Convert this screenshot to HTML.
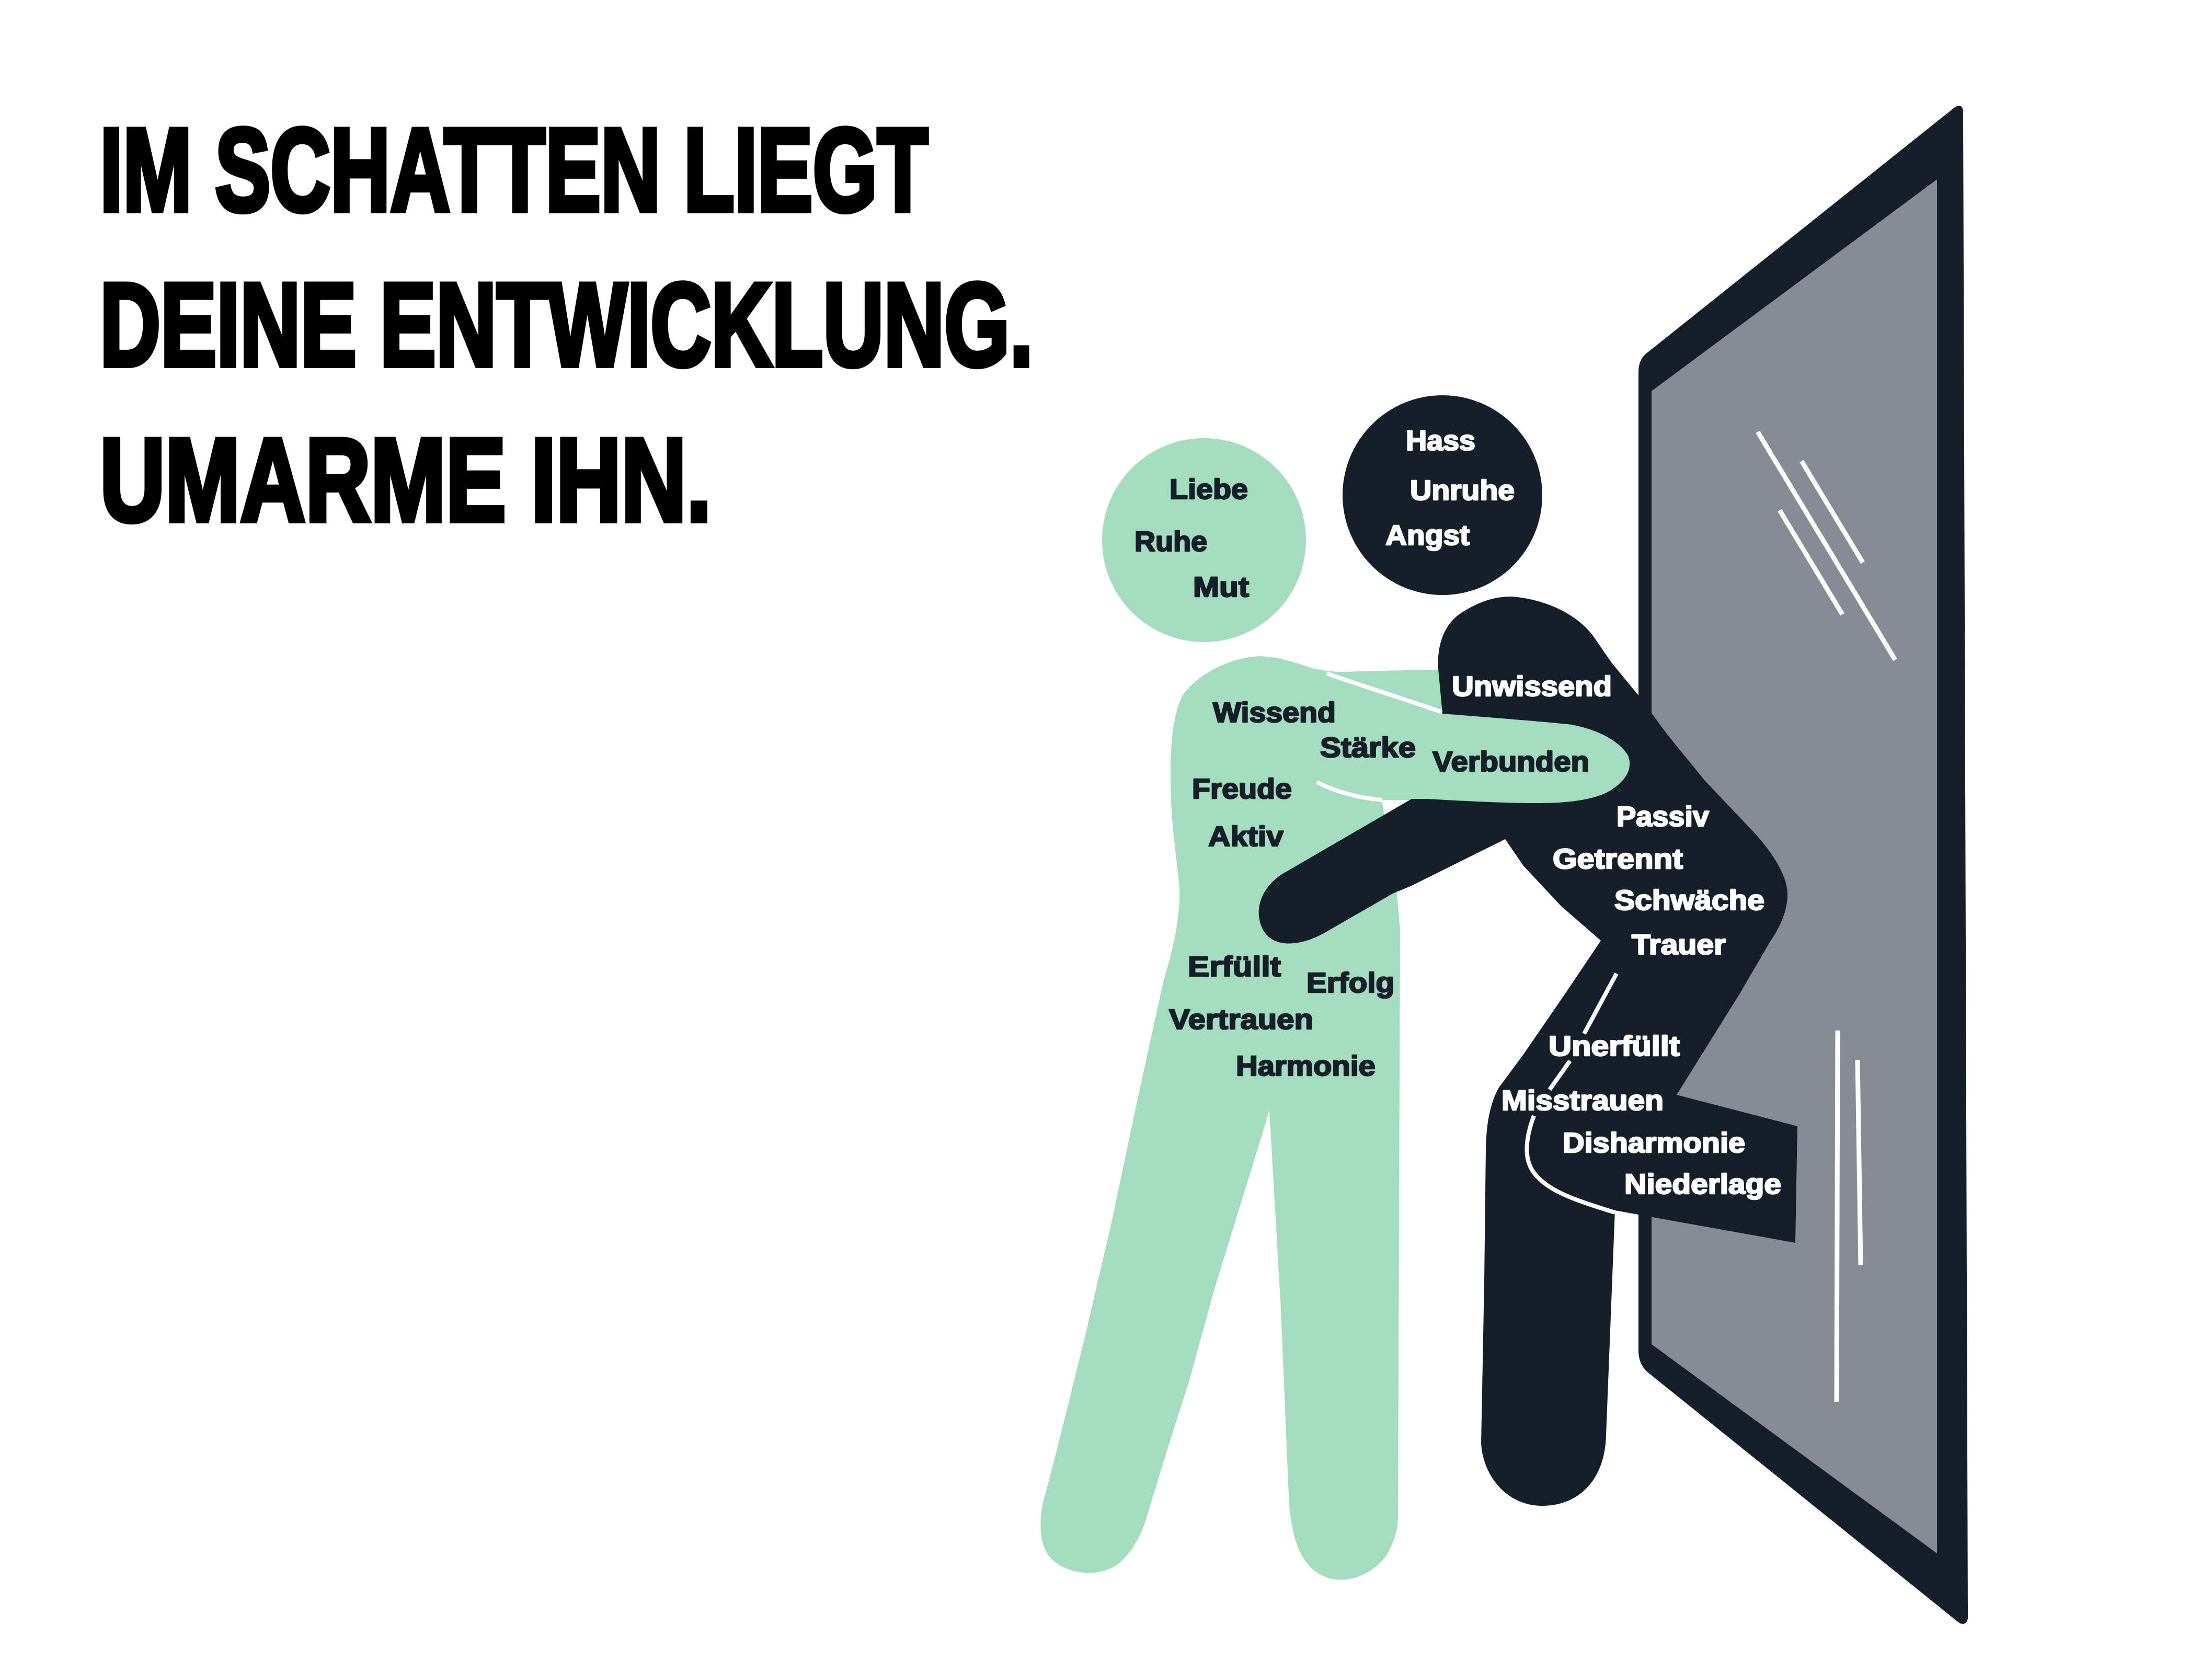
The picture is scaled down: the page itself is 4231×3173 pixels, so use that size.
<!DOCTYPE html>
<html>
<head>
<meta charset="utf-8">
<style>
  html, body { margin: 0; padding: 0; background: #ffffff; }
  svg { display: block; }
  .title { font-family: "Liberation Sans", "DejaVu Sans", sans-serif; font-weight: bold; font-size: 226px; fill: #000000; stroke: #000000; stroke-width: 10px; stroke-linejoin: miter; }
  .lbl { font-family: "Liberation Sans", "DejaVu Sans", sans-serif; font-weight: bold; font-size: 54px; stroke-width: 2.5px; stroke-linejoin: round; }
  .dk { fill: #161f29; stroke: #161f29; }
  .wt { fill: #ffffff; stroke: #ffffff; }
</style>
</head>
<body>
<svg width="4231" height="3173" viewBox="0 0 4231 3173" xmlns="http://www.w3.org/2000/svg">
  <rect x="0" y="0" width="4231" height="3173" fill="#ffffff"/>

  <!-- Title -->
  <text class="title" x="191" y="403" textLength="1584" lengthAdjust="spacingAndGlyphs">IM SCHATTEN LIEGT</text>
  <text class="title" x="191" y="699" textLength="1785" lengthAdjust="spacingAndGlyphs">DEINE ENTWICKLUNG.</text>
  <text class="title" x="191" y="996" textLength="1170" lengthAdjust="spacingAndGlyphs">UMARME IHN.</text>

  <!-- Mirror -->
  <path d="M 3134,712 C 3134,692 3142,680 3154,672 L 3738,206 C 3748,198 3755,203 3755,214 L 3764,3093 C 3764,3105 3755,3110 3745,3102 L 3151,2624 C 3140,2614 3134,2600 3134,2584 Z" fill="#161f29"/>
  <path d="M 3159,748 L 3705,343 L 3705,2971 L 3159,2571 Z" fill="#878b93"/>
  <g stroke="#ffffff" stroke-width="9" fill="none" stroke-linecap="butt">
    <line x1="3362" y1="826" x2="3625" y2="1262"/>
    <line x1="3446" y1="882" x2="3563" y2="1076"/>
    <line x1="3404" y1="976" x2="3524" y2="1175"/>
    <line x1="3515" y1="1971" x2="3513" y2="2681"/>
    <line x1="3553" y1="2027" x2="3559" y2="2420"/>
  </g>

  <!-- Heads -->
  <circle cx="2303" cy="1033" r="195" fill="#a4dcbf"/>
  <circle cx="2759" cy="947" r="191" fill="#161f29"/>

  <!-- Green body -->
  <path d="M 2409,1255
           C 2350,1258 2290,1290 2262,1330
           C 2242,1370 2238,1430 2239,1500
           C 2240,1580 2252,1650 2256,1700
           C 2258,1760 2240,1830 2226,1874
           L 2174,2111 L 2125,2343 L 2074,2562 L 2023,2767 L 2001,2852
           C 1985,2900 1985,2960 2015,2985
           C 2050,3015 2110,3015 2140,2990
           C 2170,2965 2185,2930 2195,2896
           L 2226,2794 L 2277,2633 L 2322,2468 L 2373,2303 L 2428,2124
           L 2450,2504 L 2465,2861
           C 2470,2950 2490,3000 2540,3018
           C 2580,3030 2630,3010 2655,2970
           C 2670,2940 2674,2920 2674,2901
           L 2677,2057 L 2678,1780 L 2672,1709 L 2643,1530
           L 2780,1530 L 2780,1280 L 2600,1284
           C 2560,1286 2540,1285 2510,1278
           C 2470,1264 2440,1256 2409,1255 Z" fill="#a4dcbf"/>

  <!-- Dark body with arm -->
  <path d="M 2759,1365
           L 2751,1279
           C 2748,1230 2765,1190 2797,1171
           C 2830,1150 2860,1141 2890,1141
           C 2950,1145 3010,1170 3045,1213
           L 3083,1268 L 3134,1330 L 3190,1406 L 3261,1493 L 3353,1590
           C 3395,1635 3420,1680 3419,1712
           C 3418,1750 3400,1780 3384,1804
           L 3328,1900 L 3207,2094
           L 3438,2154 L 3434,2377 L 3089,2315
           L 3072,2745
           C 3070,2830 3020,2880 2950,2880
           C 2880,2880 2836,2820 2833,2760
           L 2839,2450 L 2842,2196
           C 2843,2150 2850,2110 2867,2080
           L 2913,2018 L 2990,1906 L 3062,1799
           L 2986,1733 L 2914,1656 L 2879,1605
           L 2700,1694 L 2664,1709 L 2532,1785
           C 2490,1808 2440,1815 2418,1782
           C 2396,1745 2410,1700 2452,1672
           L 2700,1528 L 2759,1528 Z" fill="#161f29"/>

  <!-- Green forearm (in front) -->
  <path d="M 2700,1365 L 2759,1365
           C 2850,1372 2950,1380 3006,1386
           C 3060,1396 3100,1420 3114,1445
           C 3124,1470 3110,1495 3075,1515
           C 3040,1532 2990,1537 2920,1536
           C 2850,1535 2760,1530 2700,1526 Z" fill="#a4dcbf"/>

  <!-- White contour lines -->
  <g stroke="#ffffff" stroke-width="8" fill="none" stroke-linecap="butt">
    <path d="M 2538,1288 C 2600,1310 2680,1335 2758,1362"/>
    <path d="M 2519,1496 C 2550,1512 2590,1525 2643,1530"/>
    <line x1="3092" y1="1862" x2="3030" y2="1977"/>
    <line x1="3003" y1="2029" x2="2964" y2="2084"/>
    <path d="M 2934,2134 C 2915,2185 2915,2225 2940,2250 C 2965,2278 3010,2295 3089,2319"/>
  </g>

  <!-- Labels: green head -->
  <text class="lbl dk" x="2237" y="954" textLength="150" lengthAdjust="spacingAndGlyphs">Liebe</text>
  <text class="lbl dk" x="2170" y="1054" textLength="139" lengthAdjust="spacingAndGlyphs">Ruhe</text>
  <text class="lbl dk" x="2282" y="1141" textLength="107" lengthAdjust="spacingAndGlyphs">Mut</text>

  <!-- Labels: dark head -->
  <text class="lbl wt" x="2689" y="861" textLength="133" lengthAdjust="spacingAndGlyphs">Hass</text>
  <text class="lbl wt" x="2697" y="956" textLength="200" lengthAdjust="spacingAndGlyphs">Unruhe</text>
  <text class="lbl wt" x="2650" y="1042" textLength="161" lengthAdjust="spacingAndGlyphs">Angst</text>

  <!-- Labels: dark body -->
  <text class="lbl wt" x="2777" y="1331" textLength="306" lengthAdjust="spacingAndGlyphs">Unwissend</text>
  <text class="lbl wt" x="3092" y="1580" textLength="177" lengthAdjust="spacingAndGlyphs">Passiv</text>
  <text class="lbl wt" x="2970" y="1661" textLength="249" lengthAdjust="spacingAndGlyphs">Getrennt</text>
  <text class="lbl wt" x="3088" y="1740" textLength="287" lengthAdjust="spacingAndGlyphs">Schwäche</text>
  <text class="lbl wt" x="3121" y="1825" textLength="180" lengthAdjust="spacingAndGlyphs">Trauer</text>
  <text class="lbl wt" x="2962" y="2019" textLength="251" lengthAdjust="spacingAndGlyphs">Unerfüllt</text>
  <text class="lbl wt" x="2872" y="2123" textLength="310" lengthAdjust="spacingAndGlyphs">Misstrauen</text>
  <text class="lbl wt" x="2989" y="2204" textLength="349" lengthAdjust="spacingAndGlyphs">Disharmonie</text>
  <text class="lbl wt" x="3107" y="2283" textLength="300" lengthAdjust="spacingAndGlyphs">Niederlage</text>

  <!-- Labels: green body -->
  <text class="lbl dk" x="2320" y="1381" textLength="235" lengthAdjust="spacingAndGlyphs">Wissend</text>
  <text class="lbl dk" x="2525" y="1448" textLength="183" lengthAdjust="spacingAndGlyphs">Stärke</text>
  <text class="lbl dk" x="2740" y="1475" textLength="300" lengthAdjust="spacingAndGlyphs">Verbunden</text>
  <text class="lbl dk" x="2280" y="1527" textLength="191" lengthAdjust="spacingAndGlyphs">Freude</text>
  <text class="lbl dk" x="2311" y="1618" textLength="144" lengthAdjust="spacingAndGlyphs">Aktiv</text>
  <text class="lbl dk" x="2272" y="1867" textLength="178" lengthAdjust="spacingAndGlyphs">Erfüllt</text>
  <text class="lbl dk" x="2499" y="1898" textLength="168" lengthAdjust="spacingAndGlyphs">Erfolg</text>
  <text class="lbl dk" x="2236" y="1968" textLength="276" lengthAdjust="spacingAndGlyphs">Vertrauen</text>
  <text class="lbl dk" x="2364" y="2057" textLength="267" lengthAdjust="spacingAndGlyphs">Harmonie</text>
</svg>
</body>
</html>
